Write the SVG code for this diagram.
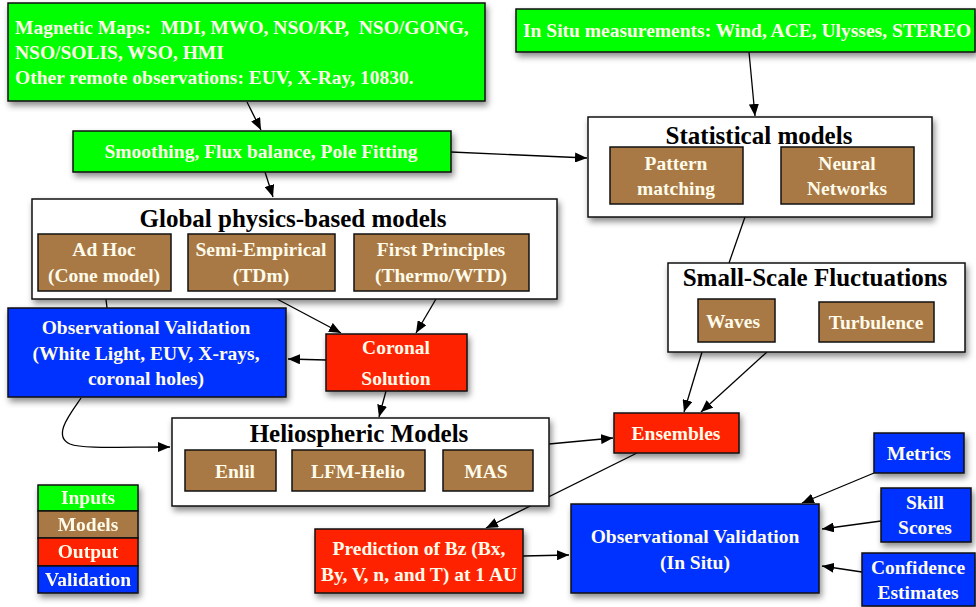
<svg xmlns="http://www.w3.org/2000/svg" width="976" height="607" viewBox="0 0 976 607">
<style>
text{font-family:"Liberation Serif","Times New Roman",serif;font-weight:bold;white-space:pre;}
.t{fill:#fffbea;font-size:19.5px;text-anchor:middle;}
.tl{fill:#fffbea;font-size:19.5px;}
.h{fill:#000;font-size:25px;text-anchor:middle;}
.g{fill:#00ff00;stroke:#111;stroke-width:1.5;}
.b{fill:#a87945;stroke:#111;stroke-width:1.5;}
.r{fill:#ff2200;stroke:#111;stroke-width:1.5;}
.v{fill:#0433ff;stroke:#111;stroke-width:1.5;}
.w{fill:#fff;stroke:#111;stroke-width:1.5;}
.c{stroke:#000;stroke-width:1.3;fill:none;}
</style>
<defs>
<filter id="sh" x="-10%" y="-10%" width="125%" height="140%">
<feDropShadow dx="2" dy="4" stdDeviation="3" flood-color="#000" flood-opacity="0.45"/>
</filter>
<marker id="a" viewBox="0 0 12 10" refX="12" refY="5" markerWidth="12" markerHeight="10" markerUnits="userSpaceOnUse" orient="auto">
<path d="M0,0 L12,5 L0,10 z" fill="#000"/>
</marker>
</defs>
<rect width="976" height="607" fill="#fff"/>

<g id="connectors">
<line class="c" x1="247" y1="102" x2="261" y2="130" marker-end="url(#a)"/>
<line class="c" x1="265" y1="172" x2="273" y2="197" marker-end="url(#a)"/>
<line class="c" x1="451" y1="152" x2="587" y2="158" marker-end="url(#a)"/>
<line class="c" x1="749" y1="52" x2="755" y2="116" marker-end="url(#a)"/>
<line class="c" x1="745" y1="217" x2="729" y2="263"/>
<line class="c" x1="105" y1="291" x2="107" y2="308"/>
<line class="c" x1="277" y1="299" x2="341" y2="333" marker-end="url(#a)"/>
<line class="c" x1="436" y1="299" x2="416" y2="333" marker-end="url(#a)"/>
<line class="c" x1="326" y1="360" x2="288" y2="359" marker-end="url(#a)"/>
<line class="c" x1="386" y1="391" x2="379" y2="417" marker-end="url(#a)"/>
<path class="c" d="M81,398 C70,414 52,436 70,444 C82,449 120,447 170,447" marker-end="url(#a)"/>
<line class="c" x1="549" y1="444" x2="613" y2="438" marker-end="url(#a)"/>
<line class="c" x1="702" y1="352" x2="684" y2="412" marker-end="url(#a)"/>
<line class="c" x1="767" y1="352" x2="701" y2="412" marker-end="url(#a)"/>
<line class="c" x1="637" y1="453" x2="486" y2="528" marker-end="url(#a)"/>
<line class="c" x1="523" y1="556" x2="569" y2="555" marker-end="url(#a)"/>
<line class="c" x1="874" y1="473" x2="802" y2="503" marker-end="url(#a)"/>
<line class="c" x1="881" y1="521" x2="822" y2="529" marker-end="url(#a)"/>
<line class="c" x1="862" y1="572" x2="822" y2="566" marker-end="url(#a)"/>
</g>

<g id="inputs-maps">
<rect class="g" x="8" y="3" width="477" height="98" filter="url(#sh)"/>
<text class="tl" x="15" y="34">Magnetic Maps:  MDI, MWO, NSO/KP,  NSO/GONG,</text>
<text class="tl" x="15" y="59">NSO/SOLIS, WSO, HMI</text>
<text class="tl" x="15" y="84">Other remote observations: EUV, X-Ray, 10830.</text>
</g>

<g id="smoothing">
<rect class="g" x="73" y="131" width="378" height="41" filter="url(#sh)"/>
<text class="t" x="261" y="158">Smoothing, Flux balance, Pole Fitting</text>
</g>

<g id="insitu">
<rect class="g" x="516" y="9" width="459" height="43" filter="url(#sh)"/>
<text class="tl" x="523" y="37">In Situ measurements: Wind, ACE, Ulysses, STEREO</text>
</g>

<g id="statistical">
<rect class="w" x="588" y="117" width="344" height="100" filter="url(#sh)"/>
<text class="h" x="759" y="144">Statistical models</text>
<rect class="b" x="610" y="147" width="133" height="57"/>
<text class="t" x="676" y="170">Pattern</text>
<text class="t" x="676" y="195">matching</text>
<rect class="b" x="781" y="147" width="133" height="57"/>
<text class="t" x="847" y="170">Neural</text>
<text class="t" x="847" y="195">Networks</text>
</g>

<g id="global">
<rect class="w" x="32" y="199" width="525" height="100" filter="url(#sh)"/>
<text class="h" x="293" y="227">Global physics-based models</text>
<rect class="b" x="38" y="234" width="133" height="57"/>
<text class="t" x="104" y="256">Ad Hoc</text>
<text class="t" x="104" y="282">(Cone model)</text>
<rect class="b" x="188" y="234" width="147" height="57"/>
<text class="t" x="261" y="256">Semi-Empirical</text>
<text class="t" x="261" y="282">(TDm)</text>
<rect class="b" x="354" y="234" width="175" height="57"/>
<text class="t" x="441" y="256">First Principles</text>
<text class="t" x="441" y="282">(Thermo/WTD)</text>
</g>

<g id="smallscale">
<rect class="w" x="668" y="263" width="297" height="89" filter="url(#sh)"/>
<text class="h" x="815" y="286">Small-Scale Fluctuations</text>
<rect class="b" x="698" y="299" width="77" height="43"/>
<text class="t" x="733" y="328">Waves</text>
<rect class="b" x="819" y="302" width="115" height="40"/>
<text class="t" x="876" y="329">Turbulence</text>
</g>

<g id="obsval-left">
<rect class="v" x="8" y="308" width="278" height="89" filter="url(#sh)"/>
<text class="t" x="146" y="334">Observational Validation</text>
<text class="t" x="146" y="360">(White Light, EUV, X-rays,</text>
<text class="t" x="146" y="385">coronal holes)</text>
</g>

<g id="coronal">
<rect class="r" x="326" y="334" width="141" height="57" filter="url(#sh)"/>
<text class="t" x="396" y="354">Coronal</text>
<text class="t" x="396" y="385">Solution</text>
</g>

<g id="helio">
<rect class="w" x="172" y="418" width="377" height="88" filter="url(#sh)"/>
<text class="h" x="359" y="442">Heliospheric Models</text>
<rect class="b" x="185" y="450" width="91" height="41"/>
<text class="t" x="235" y="478">Enlil</text>
<rect class="b" x="292" y="450" width="133" height="41"/>
<text class="t" x="358" y="478">LFM-Helio</text>
<rect class="b" x="443" y="450" width="90" height="41"/>
<text class="t" x="486" y="478">MAS</text>
</g>

<g id="ensembles">
<rect class="r" x="614" y="413" width="125" height="40" filter="url(#sh)"/>
<text class="t" x="676" y="440">Ensembles</text>
</g>

<g id="legend" filter="url(#sh)">
<rect class="g" x="38" y="485" width="100" height="26"/>
<text class="t" x="88" y="504">Inputs</text>
<rect class="b" x="38" y="511" width="100" height="27"/>
<text class="t" x="88" y="531">Models</text>
<rect class="r" x="38" y="538" width="100" height="28"/>
<text class="t" x="88" y="558">Output</text>
<rect class="v" x="38" y="566" width="100" height="27"/>
<text class="t" x="88" y="586">Validation</text>
</g>

<g id="prediction">
<rect class="r" x="315" y="529" width="208" height="64" filter="url(#sh)"/>
<text class="t" x="419" y="555">Prediction of Bz (Bx,</text>
<text class="t" x="419" y="581">By, V, n, and T) at 1 AU</text>
</g>

<g id="obsval-insitu">
<rect class="v" x="571" y="504" width="248" height="89" filter="url(#sh)"/>
<text class="t" x="695" y="543">Observational Validation</text>
<text class="t" x="695" y="569">(In Situ)</text>
</g>

<g id="metrics">
<rect class="v" x="874" y="433" width="90" height="40" filter="url(#sh)"/>
<text class="t" x="919" y="460">Metrics</text>
</g>

<g id="skill">
<rect class="v" x="881" y="488" width="90" height="54" filter="url(#sh)"/>
<text class="t" x="925" y="509">Skill</text>
<text class="t" x="925" y="534">Scores</text>
</g>

<g id="confidence">
<rect class="v" x="862" y="553" width="113" height="53" filter="url(#sh)"/>
<text class="t" x="918" y="574">Confidence</text>
<text class="t" x="918" y="599">Estimates</text>
</g>
</svg>
